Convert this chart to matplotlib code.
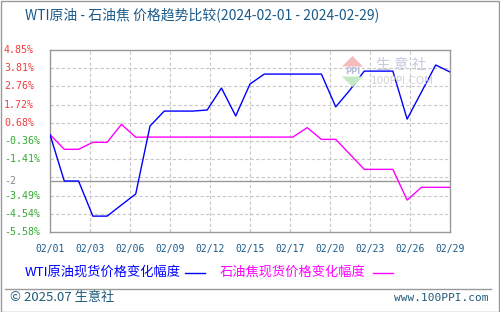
import matplotlib
matplotlib.use('Agg')
import matplotlib.pyplot as plt
import matplotlib.transforms as mtransforms
from matplotlib.patches import Rectangle, Polygon
from matplotlib.lines import Line2D

# 日期 2024-02-01 .. 2024-02-29
dates = ['02/%02d' % d for d in range(1, 30)]

# 变化幅度 (%)
wti = [0.00, -2.66, -2.66, -4.67, -4.67, -4.03, -3.40, 0.49, 1.35, 1.35,
       1.35, 1.41, 2.67, 1.07, 2.90, 3.47, 3.47, 3.47, 3.47, 3.47,
       1.59, 2.56, 3.64, 3.64, 3.64, 0.89, 2.44, 3.99, 3.59]
coke = [0.00, -0.84, -0.84, -0.44, -0.44, 0.59, -0.15, -0.14, -0.14, -0.14,
        -0.14, -0.14, -0.14, -0.14, -0.14, -0.14, -0.14, -0.14, 0.40, -0.27,
        -0.27, -1.13, -1.99, -1.99, -1.99, -3.75, -3.02, -3.02, -3.02]

yticks = [4.85, 3.81, 2.76, 1.72, 0.68, -0.36, -1.41, -2.45, -3.49, -4.54, -5.58]
ylabels = ['4.85%', '3.81%', '2.76%', '1.72%', '0.68%', '-0.36%', '-1.41%', '',
           '-3.49%', '-4.54%', '-5.58%']
base_val = -2.66
base_label = '-2'

W, H = 500, 312
fig = plt.figure(figsize=(W / 100, H / 100), dpi=100)
fig.patch.set_facecolor('white')

def fx(x):
    return x / W

def fy(y):
    return 1 - y / H

cjk = ['Noto Sans CJK SC', 'DejaVu Sans']
mono = ['DejaVu Sans Mono']

ax = fig.add_axes([fx(50), fy(232), fx(450) - fx(50), fy(50) - fy(232)])
n = len(dates)
ax.set_xlim(0, n - 1)
ax.set_ylim(yticks[-1], yticks[0])

step = (n - 1) / 10
xt = [i * step for i in range(11)]
for x in xt[1:-1]:
    ax.axvline(x, color='#c8c8c8', lw=0.8, ls=(0, (3, 2)), zorder=1)
for y in yticks[1:-1]:
    ax.axhline(y, color='#c8c8c8', lw=0.8, ls=(0, (3, 2)), zorder=1)
ax.axhline(base_val, color='#999999', lw=1.0, zorder=2)

for s in ax.spines.values():
    s.set_color('#999999')
    s.set_linewidth(1.0)
ax.set_xticks([])
ax.set_yticks([])

ax.plot(range(n), wti, color='#0000ff', lw=1.0, zorder=4)
ax.plot(range(n), coke, color='#ff00ff', lw=1.0, zorder=3)

# y tick labels
tr = mtransforms.blended_transform_factory(fig.transFigure, ax.transData)
for v, lab in zip(yticks, ylabels):
    col = '#f03c3c' if v > 0 else '#33aa33'
    ax.text(fx(4), v, lab, transform=tr, color=col, fontsize=7.2,
            family=mono, ha='left', va='center')
ax.text(fx(4), base_val, base_label, transform=tr, color='#888888', fontsize=7.2,
        family=mono, ha='left', va='center')

# x tick labels
trx = mtransforms.blended_transform_factory(ax.transData, fig.transFigure)
for x in xt:
    ax.text(x, fy(249), dates[int(x + 1e-9)], transform=trx, color='#1a5a8a',
            fontsize=7, family=mono, ha='center', va='center')

# watermark
fig.patches.append(Polygon([(fx(342), fy(66.5)), (fx(363), fy(66.5)), (fx(352.5), fy(56))],
                           closed=True, transform=fig.transFigure, facecolor='#f5bcbc',
                           edgecolor='none', zorder=0))
fig.patches.append(Polygon([(fx(342), fy(76.5)), (fx(363), fy(76.5)), (fx(352.5), fy(87))],
                           closed=True, transform=fig.transFigure, facecolor='#c4e8c4',
                           edgecolor='none', zorder=0))
fig.text(fx(352.5), fy(71.5), 'PPI', color='#b8bfd8', fontsize=6, weight='bold',
         ha='center', va='center')
fig.text(fx(401), fy(65), '生 意 社', color='#c4cadf', fontsize=10.5, family=cjk,
         ha='center', va='center')
fig.text(fx(402), fy(81), '100PPI.COM', color='#d2d2d2', fontsize=7.5,
         ha='center', va='center')

# title
fig.text(fx(25), fy(15), 'WTI原油 - 石油焦 价格趋势比较(2024-02-01 - 2024-02-29)',
         color='#1a5a8a', fontsize=10, family=cjk, ha='left', va='center')

# legend
fig.text(fx(25), fy(272.5), 'WTI原油现货价格变化幅度', color='#0000ff', fontsize=9.5,
         family=cjk, ha='left', va='center')
fig.lines.append(Line2D([fx(185), fx(205)], [fy(272.5), fy(272.5)], color='#0000ff',
                        lw=1.0, transform=fig.transFigure))
fig.text(fx(220), fy(272.5), '石油焦现货价格变化幅度', color='#ff00ff', fontsize=9.5,
         family=cjk, ha='left', va='center')
fig.lines.append(Line2D([fx(373), fx(393)], [fy(272.5), fy(272.5)], color='#ff00ff',
                        lw=1.0, transform=fig.transFigure))

# footer
fig.lines.append(Line2D([fx(5), fx(491)], [fy(288.5), fy(288.5)], color='#999999',
                        lw=1.0, transform=fig.transFigure))
fig.text(fx(10), fy(298), '© 2025.07 生意社', color='#1f5a7a', fontsize=9.5,
         family=cjk, ha='left', va='center')
fig.text(fx(489), fy(298), 'www.100PPI.com', color='#1f5a7a', fontsize=8,
         family=mono, ha='right', va='center')

fig.patches.append(Rectangle((fx(0.5), fy(311.5)), fx(499) - fx(0.5), fy(0.5) - fy(311.5),
                             transform=fig.transFigure, fill=False,
                             edgecolor='#999999', lw=1.0))

fig.savefig('out.png', dpi=100)
